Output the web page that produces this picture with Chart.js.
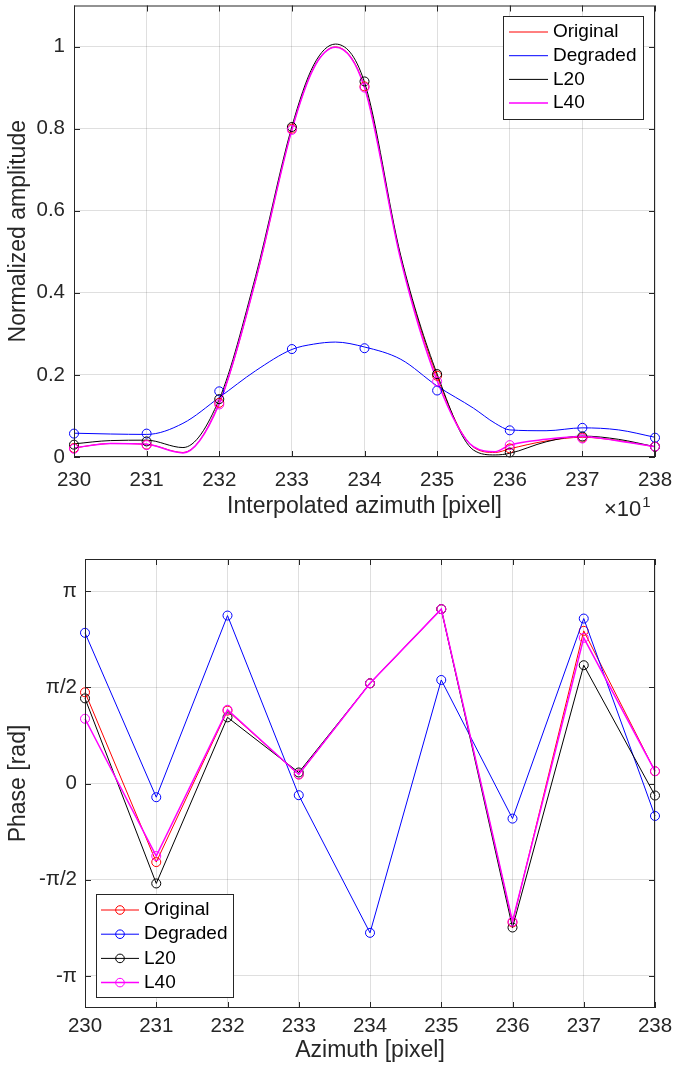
<!DOCTYPE html>
<html>
<head>
<meta charset="utf-8">
<script src="https://cdn.jsdelivr.net/npm/chart.js@4.4.0/dist/chart.umd.min.js"></script>
<style>
  html, body { margin: 0; padding: 0; background: #fff; }
  canvas { display: block; }
</style>
</head>
<body>
<canvas id="amp" width="673" height="530"></canvas>
<canvas id="phase" width="673" height="542"></canvas>
<script>
// pixel positions (markers) and the finer interpolated axis (curves)
const azimuth = [230, 231, 232, 233, 234, 235, 236, 237, 238];
const interpAzimuth = [230, 230.5, 231, 231.5, 232, 232.5, 233, 233.3, 233.6, 234, 234.5, 235, 235.5, 235.8, 236, 236.5, 237, 237.5, 238];
const seriesNames = ["Original", "Degraded", "L20", "L40"];

// amplitude at the pixels
const ampOriginal = [0.022, 0.030, 0.132, 0.800, 0.903, 0.198, 0.021, 0.047, 0.025];
const ampDegraded = [0.057, 0.057, 0.160, 0.263, 0.265, 0.162, 0.065, 0.071, 0.047];
const ampL20 = [0.030, 0.038, 0.141, 0.804, 0.915, 0.202, 0.011, 0.050, 0.025];
const ampL40 = [0.020, 0.029, 0.128, 0.797, 0.900, 0.184, 0.029, 0.045, 0.025];

// interpolated amplitude curves
const curveOriginal = [0.022, 0.033, 0.031, 0.011, 0.132, 0.43, 0.798, 0.948, 0.999, 0.902, 0.485, 0.196, 0.024, 0.011, 0.020, 0.039, 0.048, 0.040, 0.025];
const curveDegraded = [0.058, 0.056, 0.055, 0.082, 0.145, 0.21, 0.262, 0.275, 0.280, 0.268, 0.238, 0.173, 0.119, 0.082, 0.066, 0.064, 0.071, 0.066, 0.048];
const curveL20 = [0.032, 0.040, 0.041, 0.023, 0.141, 0.44, 0.805, 0.955, 1.006, 0.913, 0.49, 0.202, 0.017, 0.005, 0.009, 0.037, 0.051, 0.043, 0.025];
const curveL40 = [0.022, 0.033, 0.031, 0.010, 0.130, 0.43, 0.797, 0.947, 0.998, 0.900, 0.48, 0.186, 0.025, 0.013, 0.029, 0.043, 0.050, 0.039, 0.025];

// phase [rad]
const phaseOriginal = [1.489, -1.283, 1.19, 0.147, 1.636, 2.847, -2.27, 2.492, 0.201];
const phaseDegraded = [2.46, -0.224, 2.742, -0.191, -2.438, 1.690, -0.573, 2.693, -0.530];
const phaseL20 = [1.39, -1.632, 1.08, 0.18, 1.636, 2.847, -2.351, 1.931, -0.196];
const phaseL40 = [1.057, -1.184, 1.204, 0.147, 1.636, 2.847, -2.253, 2.378, 0.201];

const ampTicks = [0, 0.2, 0.4, 0.6, 0.8, 1];
const phaseTicks = [-Math.PI, -Math.PI / 2, 0, Math.PI / 2, Math.PI];
const phaseTickLabels = ["-\u03c0", "-\u03c0/2", "0", "\u03c0/2", "\u03c0"];

const colors = ["#ff0000", "#0000ff", "#000000", "#ff00ff"];
const widths = [1, 1, 1, 1.5];
const FONT = "'Liberation Sans', Arial, sans-serif";
const AXIS = "#262626";
const GRID = "rgba(38,38,38,0.15)";

function pts(xs, ys) {
  return xs.map((x, i) => ({ x: x, y: ys[i] }));
}

// box round the axes with the ticks pointing inwards
const axesBox = {
  id: "axesBox",
  afterDatasetsDraw(chart) {
    const { ctx, chartArea: a, scales } = chart;
    ctx.save();
    ctx.strokeStyle = AXIS;
    ctx.lineWidth = 1;
    ctx.strokeRect(a.left + 0.5, a.top + 0.5, a.right - a.left - 1, a.bottom - a.top - 1);
    ctx.beginPath();
    scales.x.ticks.forEach(t => {
      const px = Math.round(scales.x.getPixelForValue(t.value)) + 0.5;
      ctx.moveTo(px, a.bottom); ctx.lineTo(px, a.bottom - 6);
      ctx.moveTo(px, a.top); ctx.lineTo(px, a.top + 6);
    });
    scales.y.ticks.forEach(t => {
      const py = Math.round(scales.y.getPixelForValue(t.value)) + 0.5;
      ctx.moveTo(a.left, py); ctx.lineTo(a.left + 6, py);
      ctx.moveTo(a.right, py); ctx.lineTo(a.right - 6, py);
    });
    ctx.stroke();
    ctx.restore();
  }
};

const boxLegend = {
  id: "boxLegend",
  afterDraw(chart, args, o) {
    if (!o || !o.w) return;
    const ctx = chart.ctx;
    const items = chart.data.datasets.filter(d => d.inLegend);
    ctx.save();
    ctx.fillStyle = "#fff";
    ctx.fillRect(o.x, o.y, o.w, o.h);
    ctx.strokeStyle = AXIS;
    ctx.lineWidth = 1;
    ctx.strokeRect(o.x + 0.5, o.y + 0.5, o.w, o.h);
    ctx.font = "19px " + FONT;
    ctx.textBaseline = "middle";
    items.forEach((d, i) => {
      const y = o.firstRow + i * o.rowStep;
      ctx.strokeStyle = d.borderColor;
      ctx.lineWidth = d.borderWidth;
      ctx.beginPath();
      ctx.moveTo(o.lineX0, y); ctx.lineTo(o.lineX1, y);
      ctx.stroke();
      if (o.marker) {
        ctx.lineWidth = 1;
        ctx.beginPath();
        ctx.arc((o.lineX0 + o.lineX1) / 2, y, 4.3, 0, 2 * Math.PI);
        ctx.stroke();
      }
      ctx.fillStyle = "#000";
      ctx.fillText(d.label, o.textX, y);
    });
    ctx.restore();
  }
};

const expLabel = {
  id: "expLabel",
  afterDraw(chart, args, o) {
    if (!o || !o.text) return;
    const ctx = chart.ctx;
    ctx.save();
    ctx.fillStyle = AXIS;
    ctx.textBaseline = "alphabetic";
    ctx.font = "22px " + FONT;
    ctx.fillText(o.text, o.x, o.y);
    const w = ctx.measureText(o.text).width;
    ctx.font = "15px " + FONT;
    ctx.fillText(o.sup, o.x + w + 1, o.y - 9);
    ctx.restore();
  }
};

function xScale(titleText, tickPad, height, lineH) {
  return {
    type: "linear",
    min: 230,
    max: 238,
    ticks: { stepSize: 1, padding: tickPad, color: AXIS, font: { family: FONT, size: 20.5, lineHeight: lineH } },
    grid: { color: GRID, lineWidth: 1, drawTicks: false },
    border: { display: false },
    title: { display: true, text: titleText, color: AXIS, font: { family: FONT, size: 23 }, padding: { top: 0, bottom: 0 } },
    afterFit(s) { s.height = height; s.paddingLeft = 0; s.paddingRight = 0; }
  };
}

// ---- amplitude ----
let ampDatasets = [];
[curveOriginal, curveDegraded, curveL20, curveL40].forEach((c, i) => {
  ampDatasets.push({
    label: seriesNames[i],
    inLegend: true,
    data: pts(interpAzimuth, c),
    borderColor: colors[i],
    borderWidth: widths[i],
    pointRadius: 0,
    cubicInterpolationMode: "monotone",
    fill: false,
    clip: false,
    order: 8 - i
  });
});
[ampOriginal, ampDegraded, ampL20, ampL40].forEach((c, i) => {
  ampDatasets.push({
    label: seriesNames[i] + " samples",
    data: pts(azimuth, c),
    showLine: false,
    borderColor: colors[i],
    pointRadius: 4.5,
    pointBorderWidth: 1,
    pointBorderColor: colors[i],
    pointBackgroundColor: "rgba(0,0,0,0)",
    clip: false,
    order: 4 - i
  });
});

new Chart(document.getElementById("amp").getContext("2d"), {
  type: "line",
  data: { datasets: ampDatasets },
  options: {
    responsive: false,
    animation: false,
    events: [],
    layout: { padding: { left: 0, right: 18, top: 5, bottom: 10 } },
    scales: {
      x: xScale("Interpolated azimuth [pixel]", 11, 63, 1.2),
      y: {
        min: 0,
        max: 1.1,
        afterBuildTicks(s) { s.ticks = ampTicks.map(v => ({ value: v })); },
        ticks: { padding: 9, color: AXIS, font: { family: FONT, size: 20.5 }, callback: v => String(v) },
        grid: { color: GRID, lineWidth: 1, drawTicks: false },
        border: { display: false },
        title: { display: true, text: "Normalized amplitude", color: AXIS, font: { family: FONT, size: 23 }, padding: { top: 5, bottom: 0 } },
        afterFit(s) { s.width = 74; s.paddingTop = 0; s.paddingBottom = 0; }
      }
    },
    plugins: {
      legend: { display: false },
      tooltip: { enabled: false },
      boxLegend: { x: 503, y: 16, w: 140, h: 103, firstRow: 32, rowStep: 23.7, lineX0: 509, lineX1: 548, textX: 553, marker: false },
      expLabel: { text: "\u00d710", sup: "1", x: 604, y: 516 }
    }
  },
  plugins: [axesBox, boxLegend, expLabel]
});

// ---- phase ----
let phaseDatasets = [phaseOriginal, phaseDegraded, phaseL20, phaseL40].map((c, i) => ({
  label: seriesNames[i],
  inLegend: true,
  data: pts(azimuth, c),
  borderColor: colors[i],
  borderWidth: widths[i],
  tension: 0,
  pointRadius: 4.5,
  pointBorderWidth: 1,
  pointBorderColor: colors[i],
  pointBackgroundColor: "rgba(0,0,0,0)",
  fill: false,
  clip: false,
  order: 4 - i
}));

new Chart(document.getElementById("phase").getContext("2d"), {
  type: "line",
  data: { datasets: phaseDatasets },
  options: {
    responsive: false,
    animation: false,
    events: [],
    layout: { padding: { left: 0, right: 18, top: 29, bottom: 8 } },
    scales: {
      x: xScale("Azimuth [pixel]", 8, 56, 1),
      y: {
        min: -7 * Math.PI / 6,
        max: 7 * Math.PI / 6,
        afterBuildTicks(s) { s.ticks = phaseTicks.map(v => ({ value: v })); },
        ticks: { padding: 8, color: AXIS, font: { family: FONT, size: 20.5 }, callback: (v, i) => phaseTickLabels[i] },
        grid: { color: GRID, lineWidth: 1, drawTicks: false },
        border: { display: false },
        title: { display: true, text: "Phase [rad]", color: AXIS, font: { family: FONT, size: 23 }, padding: { top: 5, bottom: 0 } },
        afterFit(s) { s.width = 85; s.paddingTop = 0; s.paddingBottom = 0; }
      }
    },
    plugins: {
      legend: { display: false },
      tooltip: { enabled: false },
      boxLegend: { x: 96, y: 364, w: 137, h: 103, firstRow: 380, rowStep: 24.2, lineX0: 101, lineX1: 139, textX: 144, marker: true }
    }
  },
  plugins: [axesBox, boxLegend]
});
</script>
</body>
</html>
